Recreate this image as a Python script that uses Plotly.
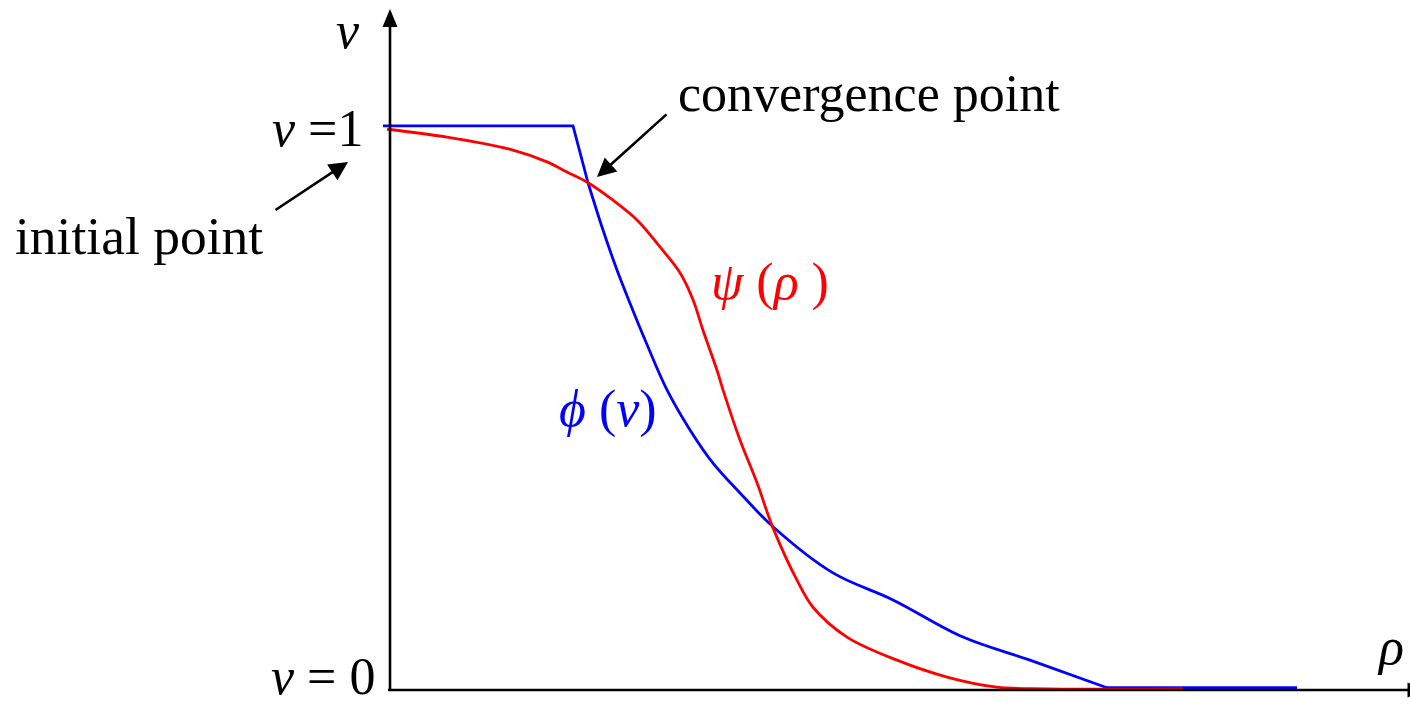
import plotly.graph_objects as go

W, H = 1410, 707

# phi(v): blue curve (rho, v)
phi_rho = [-0.07, 1.83, 1.98, 2.13, 2.27, 2.40, 2.55, 2.77, 3.00, 3.23, 3.50, 3.83, 4.43, 5.03, 5.73, 6.40, 7.17, 9.07]
phi_v = [1.002, 1.002, 0.901, 0.817, 0.746, 0.687, 0.622, 0.533, 0.462, 0.403, 0.350, 0.290, 0.208, 0.160, 0.094,
         0.053, 0.004, 0.004]

# psi(rho): red curve (rho, v)
psi_rho = [-0.03, 0.57, 1.23, 1.57, 1.77, 1.98, 2.23, 2.47, 2.70, 2.90, 3.03, 3.13, 3.27, 3.33, 3.50, 3.67,
           3.83, 4.07, 4.23, 4.57, 5.07, 5.57, 6.07, 6.57, 7.93]
psi_v = [0.996, 0.982, 0.959, 0.938, 0.920, 0.901, 0.870, 0.835, 0.787, 0.741, 0.693, 0.639, 0.568, 0.533, 0.444,
         0.368, 0.288, 0.195, 0.147, 0.094, 0.053, 0.023, 0.005, 0.002, 0.002]

# axis ranges: origin of the (rho, v) frame sits at pixel (390, 690), v = 1 at pixel row 127
X_RANGE = [-3.90, 10.20]
Y_RANGE = [-17 / 563, 690 / 563]

FONT = "Liberation Serif, Times New Roman, serif"
FS = 52
BLUE = "#0000ff"
RED = "#ff0000"
LW = 2.8


def px(x):
    return x / W


def py(y):
    return 1 - y / H


fig = go.Figure()

# phi(v): straight plateau and first drop, smooth body, straight tail
fig.add_trace(go.Scatter(x=phi_rho[:3], y=phi_v[:3], mode="lines",
                         line=dict(color=BLUE, width=LW), hoverinfo="skip", showlegend=False))
fig.add_trace(go.Scatter(x=phi_rho[2:-1], y=phi_v[2:-1], mode="lines",
                         line=dict(color=BLUE, width=LW, shape="spline", smoothing=1.0),
                         hoverinfo="skip", showlegend=False))
fig.add_trace(go.Scatter(x=phi_rho[-2:], y=phi_v[-2:], mode="lines",
                         line=dict(color=BLUE, width=LW), hoverinfo="skip", showlegend=False))

# psi(rho)
fig.add_trace(go.Scatter(x=psi_rho, y=psi_v, mode="lines",
                         line=dict(color=RED, width=LW, shape="spline", smoothing=1.0),
                         hoverinfo="skip", showlegend=False))

# coordinate axes drawn as arrows
fig.add_shape(type="line", xref="paper", yref="paper",
              x0=px(388), y0=py(690), x1=px(1410), y1=py(690),
              line=dict(color="black", width=2.6))
fig.add_shape(type="line", xref="paper", yref="paper",
              x0=px(390), y0=py(691), x1=px(390), y1=py(22),
              line=dict(color="black", width=2.6))
fig.add_shape(type="path", xref="paper", yref="paper",
              path=f"M {px(390)},{py(9)} L {px(382.5)},{py(27)} L {px(397.5)},{py(27)} Z",
              fillcolor="black", line=dict(width=0))
fig.add_shape(type="path", xref="paper", yref="paper",
              path=f"M {px(1426)},{py(690)} L {px(1407.5)},{py(682.5)} L {px(1407.5)},{py(697.5)} Z",
              fillcolor="black", line=dict(width=0))

annotations = []


def label(text, x, y, color="black", xanchor="left", yanchor="middle", size=FS):
    annotations.append(dict(text=text, x=px(x), y=py(y), xref="paper", yref="paper",
                            xanchor=xanchor, yanchor=yanchor, showarrow=False, borderpad=0,
                            font=dict(family=FONT, size=size, color=color)))


def pointer(x_tip, y_tip, x_tail, y_tail):
    annotations.append(dict(text="", x=px(x_tip), y=py(y_tip), xref="paper", yref="paper",
                            ax=x_tail - x_tip, ay=y_tail - y_tip, axref="pixel", ayref="pixel",
                            showarrow=True, arrowhead=2, arrowsize=1.45, arrowwidth=2.6,
                            arrowcolor="black"))


label("<i>v</i>", 348, 1, xanchor="center", yanchor="top")
label("<i>ρ</i>", 1390, 646, xanchor="center")
label("<i>v</i> =1", 364, 128, xanchor="right")
label("<i>v</i> = 0", 376, 706, xanchor="right", yanchor="bottom")
label("initial point", 14, 236, size=53.5)
label("convergence point", 677, 93)
label("<i>ψ</i> (<i>ρ</i> )", 710, 282, color=RED)
label("<i>ϕ</i> (<i>v</i>)", 558, 409, color=BLUE)

pointer(348, 162, 274, 211)
pointer(597, 177, 668, 113)

fig.update_layout(
    width=W, height=H,
    margin=dict(l=0, r=0, t=0, b=0),
    paper_bgcolor="white", plot_bgcolor="white",
    xaxis=dict(range=X_RANGE, visible=False, fixedrange=True),
    yaxis=dict(range=Y_RANGE, visible=False, fixedrange=True),
    annotations=annotations,
    showlegend=False,
)

fig.write_html("out.html", config={"displayModeBar": False})
